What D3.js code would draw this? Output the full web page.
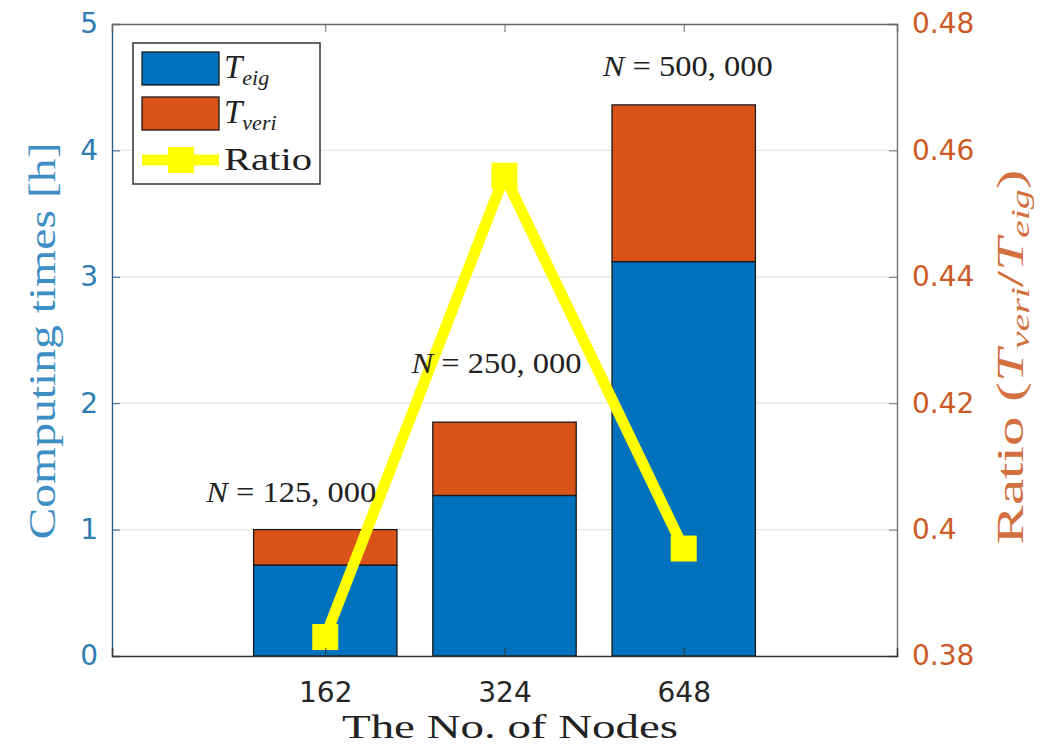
<!DOCTYPE html>
<html>
<head>
<meta charset="utf-8">
<script src="https://cdn.jsdelivr.net/npm/d3@7"></script>
<style>
  body { margin: 0; background: #fff; }
  svg text { font-family: "DejaVu Sans", sans-serif; }
  .serif { font-family: "Liberation Serif", "DejaVu Serif", serif; }
</style>
</head>
<body>
<div id="chart"></div>
<script>
// data
var nodes = ["162", "324", "648"];
var tEig = [0.72, 1.27, 3.12];
var tVeri = [0.28, 0.58, 1.24];
var ratio = [0.383, 0.456, 0.397];
var problemSize = ["125, 000", "250, 000", "500, 000"];
var noteAt = [1.22, 2.24, 4.59];   // where the N = ... notes sit, in hours
var leftTicks = [0, 1, 2, 3, 4, 5];
var rightTicks = [0.38, 0.4, 0.42, 0.44, 0.46, 0.48];

var margin = {top: 24, right: 153, bottom: 99, left: 112},
    width = 1050 - margin.left - margin.right,
    height = 755 - margin.top - margin.bottom;

var blue = "#0072bd", orange = "#d95319", yellow = "#ffff00";
var leftColor = "#2f7db3", rightColor = "#cc5a26";

var svg = d3.select("#chart")
    .append("svg")
    .attr("width", 1050)
    .attr("height", 755)
    .append("g")
    .attr("transform", "translate(" + margin.left + "," + margin.top + ")");

var x = d3.scalePoint().domain(nodes).range([0, width]).padding(1.19);
var barW = x.step() * 0.8;
var y = d3.scaleLinear().domain([0, 5]).range([height, 0]);
var y2 = d3.scaleLinear().domain([0.38, 0.48]).range([height, 0]);

// grid
svg.append("g").selectAll("line")
    .data(leftTicks.slice(1, -1))
    .enter().append("line")
    .attr("x1", 0).attr("x2", width)
    .attr("y1", function(d) { return y(d); })
    .attr("y2", function(d) { return y(d); })
    .attr("stroke", "#e4e4e4")
    .attr("stroke-width", 1.2);

// stacked bars
var stack = nodes.map(function(n, i) {
    return [{n: n, y0: 0, y1: tEig[i], c: blue},
            {n: n, y0: tEig[i], y1: tEig[i] + tVeri[i], c: orange}];
});
svg.append("g").selectAll("rect")
    .data(d3.merge(stack))
    .enter().append("rect")
    .attr("x", function(d) { return x(d.n) - barW / 2; })
    .attr("width", barW)
    .attr("y", function(d) { return y(d.y1); })
    .attr("height", function(d) { return y(d.y0) - y(d.y1); })
    .attr("fill", function(d) { return d.c; })
    .attr("stroke", "#1a1a1a")
    .attr("stroke-width", 1.3);

// ratio line on the right axis
var line = d3.line()
    .x(function(d, i) { return x(nodes[i]); })
    .y(function(d) { return y2(d); });
svg.append("path")
    .datum(ratio)
    .attr("d", line)
    .attr("fill", "none")
    .attr("stroke", yellow)
    .attr("stroke-width", 11)
    .attr("stroke-linejoin", "miter");
svg.append("g").selectAll("rect")
    .data(ratio)
    .enter().append("rect")
    .attr("x", function(d, i) { return x(nodes[i]) - 13; })
    .attr("y", function(d) { return y2(d) - 13; })
    .attr("width", 26).attr("height", 26)
    .attr("fill", yellow);

// N = ... notes
var noteShift = [-34, -8, 4];
var notes = svg.append("g").selectAll("text")
    .data(problemSize)
    .enter().append("text")
    .attr("class", "serif")
    .attr("x", function(d, i) { return x(nodes[i]) + noteShift[i]; })
    .attr("y", function(d, i) { return y(noteAt[i]); })
    .attr("text-anchor", "middle")
    .attr("font-size", 30)
    .attr("fill", "#222")
    .attr("textLength", 170)
    .attr("lengthAdjust", "spacingAndGlyphs");
notes.append("tspan").attr("font-style", "italic").text("N");
notes.append("tspan").text(function(d) { return " = " + d; });

// axes
var axL = svg.append("g")
    .call(d3.axisLeft(y).tickValues(leftTicks).tickSize(-8).tickPadding(14).tickFormat(d3.format("d")));
axL.select(".domain").attr("stroke", "#2b5f85").attr("stroke-width", 1.4);
axL.selectAll(".tick line").attr("stroke", "#2b5f85");
axL.selectAll(".tick text").attr("fill", leftColor).attr("font-size", 28);

var axR = svg.append("g")
    .attr("transform", "translate(" + width + ",0)")
    .call(d3.axisRight(y2).tickValues(rightTicks).tickSize(-8).tickPadding(15)
        .tickFormat(function(d) { return d === 0.4 ? "0.4" : d3.format(".2f")(d); }));
axR.select(".domain").attr("stroke", "#7a6f6c").attr("stroke-width", 1.4);
axR.selectAll(".tick line").attr("stroke", "#7a6f6c");
axR.selectAll(".tick text").attr("fill", rightColor).attr("font-size", 28);

var axB = svg.append("g")
    .attr("transform", "translate(0," + height + ")")
    .call(d3.axisBottom(x).tickSize(-8).tickPadding(26));
axB.select(".domain").attr("stroke", "#333").attr("stroke-width", 1.4);
axB.selectAll(".tick line").attr("stroke", "#333");
axB.selectAll(".tick text").attr("fill", "#262626").attr("font-size", 28);

var axT = svg.append("g")
    .call(d3.axisTop(x).tickSize(-8).tickFormat(""));
axT.select(".domain").attr("stroke", "#666").attr("stroke-width", 1.4);
axT.selectAll(".tick line").attr("stroke", "#666");

// titles
svg.append("text")
    .attr("class", "serif")
    .attr("x", 398)
    .attr("y", height + 82)
    .attr("text-anchor", "middle")
    .attr("font-size", 33)
    .attr("fill", "#222")
    .attr("textLength", 336)
    .attr("lengthAdjust", "spacingAndGlyphs")
    .text("The No. of Nodes");

svg.append("text")
    .attr("class", "serif")
    .attr("transform", "translate(" + (-57) + "," + 317 + ") rotate(-90)")
    .attr("text-anchor", "middle")
    .attr("font-size", 38)
    .attr("fill", "#3d8ec4")
    .attr("textLength", 397)
    .attr("lengthAdjust", "spacingAndGlyphs")
    .text("Computing times [h]");

var rt = svg.append("text")
    .attr("class", "serif")
    .attr("transform", "translate(" + (width + 126) + "," + 333 + ") rotate(-90)")
    .attr("text-anchor", "middle")
    .attr("font-size", 37)
    .attr("fill", "#d2703f")
    .attr("textLength", 375)
    .attr("lengthAdjust", "spacingAndGlyphs");
rt.append("tspan").text("Ratio (");
rt.append("tspan").attr("font-style", "italic").text("T");
rt.append("tspan").attr("font-style", "italic").attr("font-size", 25).attr("dy", 6).text("veri");
rt.append("tspan").attr("dy", -6).text("/");
rt.append("tspan").attr("font-style", "italic").text("T");
rt.append("tspan").attr("font-style", "italic").attr("font-size", 25).attr("dy", 6).text("eig");
rt.append("tspan").attr("dy", -6).text(")");

// legend
var lg = svg.append("g").attr("transform", "translate(21,19)");
lg.append("rect")
    .attr("width", 187).attr("height", 141)
    .attr("fill", "#fff").attr("stroke", "#333").attr("stroke-width", 1.5);
var entries = [{c: blue, sub: "eig"}, {c: orange, sub: "veri"}];
entries.forEach(function(e, i) {
    lg.append("rect")
        .attr("x", 9).attr("y", 9 + i * 45)
        .attr("width", 77).attr("height", 33)
        .attr("fill", e.c).attr("stroke", "#1a1a1a").attr("stroke-width", 1.3);
    var t = lg.append("text")
        .attr("class", "serif")
        .attr("x", 91).attr("y", 35 + i * 45)
        .attr("font-size", 33).attr("fill", "#222");
    t.append("tspan").attr("font-style", "italic").text("T");
    t.append("tspan").attr("font-style", "italic").attr("font-size", 22).attr("dy", 7).text(e.sub);
});
lg.append("line")
    .attr("x1", 9).attr("x2", 86).attr("y1", 117).attr("y2", 117)
    .attr("stroke", yellow).attr("stroke-width", 11);
lg.append("rect")
    .attr("x", 35).attr("y", 104).attr("width", 26).attr("height", 26)
    .attr("fill", yellow);
lg.append("text")
    .attr("class", "serif")
    .attr("x", 91).attr("y", 127)
    .attr("font-size", 32).attr("fill", "#222")
    .attr("textLength", 88)
    .attr("lengthAdjust", "spacingAndGlyphs")
    .text("Ratio");
</script>
</body>
</html>
